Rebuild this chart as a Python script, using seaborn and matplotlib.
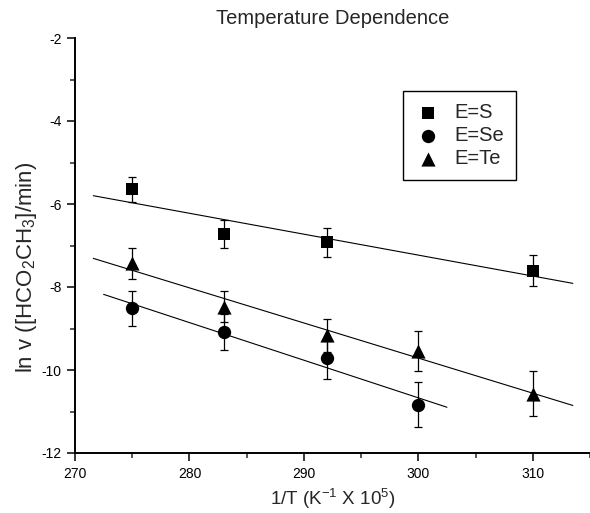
import numpy as np
import pandas as pd
import matplotlib
matplotlib.use("Agg")
import matplotlib.pyplot as plt
import seaborn as sns

# ---- data ----
x_S = [275, 283, 292, 310]
y_S = [-5.65, -6.73, -6.92, -7.61]
e_S = [0.29, 0.34, 0.35, 0.37]

x_Se = [275, 283, 292, 300]
y_Se = [-8.51, -9.08, -9.72, -10.84]
e_Se = [0.42, 0.44, 0.49, 0.54]

x_Te = [275, 283, 292, 300, 310]
y_Te = [-7.43, -8.47, -9.16, -9.55, -10.57]
e_Te = [0.37, 0.37, 0.40, 0.48, 0.54]

fit_S = [271.6, 313.5]
fit_Se = [272.5, 302.5]
fit_Te = [271.6, 313.5]

labels = ["E=S", "E=Se", "E=Te"]
x_ticks = [270, 280, 290, 300, 310]
y_ticks = [-12, -10, -8, -6, -4, -2]

sns.set_theme(style="ticks")
plt.rcParams["font.family"] = ["Liberation Sans", "DejaVu Sans"]
plt.rcParams["mathtext.fontset"] = "custom"
plt.rcParams["mathtext.rm"] = "Liberation Sans"
plt.rcParams["mathtext.it"] = "Liberation Sans"
plt.rcParams["axes.unicode_minus"] = False

fig = plt.figure(figsize=(5.9, 5.13), dpi=100)
ax = fig.add_axes([75/590, 60/513, 515/590, 415/513])

series = [
    (x_S, y_S, e_S, fit_S, "s", 8.6, labels[0]),
    (x_Se, y_Se, e_Se, fit_Se, "o", 9.6, labels[1]),
    (x_Te, y_Te, e_Te, fit_Te, "^", 10.2, labels[2]),
]

for xs, ys, es, fr, mk, ms, lab in series:
    xs = np.array(xs, float)
    ys = np.array(ys, float)
    slope, icpt = np.polyfit(xs, ys, 1)
    fx = np.array(fr)
    dfit = pd.DataFrame({"x": fx, "y": slope * fx + icpt})
    sns.lineplot(data=dfit, x="x", y="y", ax=ax, color="black", lw=0.8, legend=False)
    ax.errorbar(xs, ys, yerr=es, fmt="none", ecolor="black", elinewidth=0.9,
                capsize=3.2, capthick=0.9)
    d = pd.DataFrame({"x": xs, "y": ys})
    sns.scatterplot(data=d, x="x", y="y", ax=ax, marker=mk, s=ms**2, color="black",
                    edgecolor="black", linewidth=0, label=lab, zorder=5)

ax.set_xlim(270, 315)
ax.set_ylim(-12, -2)
ax.set_xticks(x_ticks)
ax.set_yticks(y_ticks)
ax.set_xticks(np.arange(275, 316, 10), minor=True)
ax.set_yticks(np.arange(-11, -2, 2), minor=True)
ax.tick_params(axis="both", which="major", direction="out", length=6, width=1.1,
               labelsize=10, colors="black")
ax.tick_params(axis="both", which="minor", direction="out", length=3.5, width=1.1)
ax.tick_params(axis="x", pad=4)
for s in ["top", "right"]:
    ax.spines[s].set_visible(False)
for s in ["left", "bottom"]:
    ax.spines[s].set_linewidth(1.4)
    ax.spines[s].set_color("black")

ax.set_xlabel(r"1/T (K$^{-1}$ X 10$^{5}$)", fontsize=13.5, labelpad=4)
ax.set_ylabel(r"ln v ([HCO$_2$CH$_3$]/min)", fontsize=16, labelpad=6)
ax.yaxis.set_label_coords(-0.07, 0.446)
ax.set_title("Temperature Dependence", fontsize=14.5, pad=10)

leg = ax.legend(loc="upper left", bbox_to_anchor=(0.637, 0.872), frameon=True,
                fancybox=False, edgecolor="black", fontsize=14.5, labelspacing=0.2,
                handletextpad=0.65, borderpad=0.6, handlelength=1.3, borderaxespad=0)
leg.get_frame().set_linewidth(1.0)
leg.get_frame().set_alpha(1)

fig.savefig("out.png", dpi=100)
